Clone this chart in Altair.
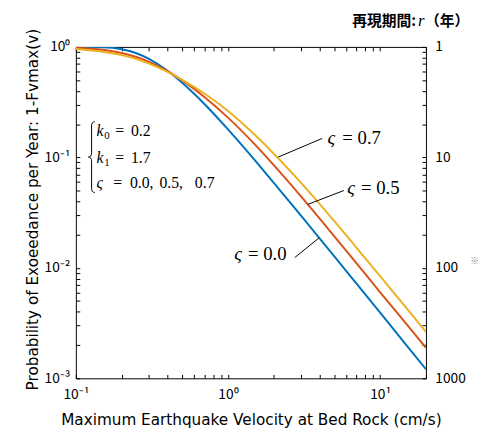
import altair as alt
import pandas as pd

# ---- data ----
v = [0.1, 0.15, 0.2, 0.25, 0.3, 0.4, 0.5, 0.7, 1, 1.5, 2, 3, 5, 7, 10, 15, 20]
p_s00 = [0.9999, 0.993, 0.952, 0.876, 0.783, 0.608, 0.473, 0.304, 0.179, 0.0943,
         0.0589, 0.0300, 0.0127, 0.00719, 0.00393, 0.00197, 0.00121]
p_s05 = [0.978, 0.943, 0.881, 0.81, 0.736, 0.604, 0.498, 0.352, 0.229, 0.131,
         0.085, 0.0448, 0.0193, 0.0110, 0.00601, 0.00306, 0.00189]
p_s07 = [0.958, 0.904, 0.843, 0.775, 0.710, 0.594, 0.504, 0.379, 0.263, 0.160,
         0.108, 0.0595, 0.0265, 0.0152, 0.00841, 0.00428, 0.00263]
series = ["0.0", "0.5", "0.7"]
colors = ["#0072BD", "#D95319", "#EDB120"]

# leader lines (curve point -> label), in data units
lead_v0 = [3.97, 3.34, 2.14]
lead_p0 = [0.0187, 0.0375, 0.1007]
lead_v1 = [2.75, 5.77, 4.16]
lead_p1 = [0.0124, 0.0501, 0.1485]

x_ticks = [0.1, 0.2, 0.3, 0.4, 0.5, 0.6, 0.7, 0.8, 0.9,
           1, 2, 3, 4, 5, 6, 7, 8, 9, 10, 20]
y_ticks = [0.001, 0.002, 0.003, 0.004, 0.005, 0.006, 0.007, 0.008, 0.009,
           0.01, 0.02, 0.03, 0.04, 0.05, 0.06, 0.07, 0.08, 0.09,
           0.1, 0.2, 0.3, 0.4, 0.5, 0.6, 0.7, 0.8, 0.9, 1]

rows = []
for s, ps in zip(series, [p_s00, p_s05, p_s07]):
    for vi, pi in zip(v, ps):
        rows.append({"v": vi, "p": pi, "s": s})
df = pd.DataFrame(rows)
lead_df = pd.DataFrame({"v0": lead_v0, "p0": lead_p0, "v1": lead_v1, "p1": lead_p1})

JP = "Noto Sans CJK JP"
TITLE_FONT = "DejaVu Sans"
SERIF = "Liberation Serif"

xs = alt.Scale(type="log", domain=[0.1, 20], nice=False)
ys = alt.Scale(type="log", domain=[0.001, 1], nice=False)

common = dict(grid=False, domain=False, ticks=True, tickSize=4, tickColor="black",
              tickWidth=1, offset=-4, labelFlush=False, labelOverlap=False,
              labelFont=JP, labelFontSize=14, labelColor="black")

x_lab = ("datum.value == 0.1 ? '10\u207b\u00b9' : datum.value == 1 ? '10\u2070' : "
         "datum.value == 10 ? '10\u00b9' : ''")
y_lab = ("datum.value == 1 ? '10\u2070' : datum.value == 0.1 ? '10\u207b\u00b9' : "
         "datum.value == 0.01 ? '10\u207b\u00b2' : datum.value == 0.001 ? '10\u207b\u00b3' : ''")
r_lab = ("datum.value == 1 ? '1' : datum.value == 0.1 ? '10' : "
         "datum.value == 0.01 ? '100' : datum.value == 0.001 ? '1000' : ''")

bottom_axis = alt.Axis(orient="bottom", values=x_ticks, labelExpr=x_lab, labelPadding=10,
                       title="Maximum Earthquake Velocity at Bed Rock (cm/s)",
                       titleFont=TITLE_FONT, titleFontSize=15.5, titleFontWeight="normal",
                       titleColor="black", titleY=46, titleBaseline="middle", **common)
left_axis = alt.Axis(orient="left", values=y_ticks, labelExpr=y_lab, labelPadding=6,
                     title="Probability of Exoeedance per Year: 1-Fvmax(v)",
                     titleFont=TITLE_FONT, titleFontSize=15.5, titleFontWeight="normal",
                     titleColor="black", titleX=-48, titleY=165, titleAngle=270,
                     titleBaseline="middle", titleAlign="center", **common)
top_axis = alt.Axis(orient="top", values=x_ticks, labels=False, title=None,
                    **{k: val for k, val in common.items() if not k.startswith("label")})
right_axis = alt.Axis(orient="right", values=y_ticks, labelExpr=r_lab, labelPadding=9,
                      title=None, **common)

lines = alt.Chart(df).mark_line(strokeWidth=2, interpolate="monotone", clip=True).encode(
    x=alt.X("v:Q", scale=xs, axis=bottom_axis),
    y=alt.Y("p:Q", scale=ys, axis=left_axis),
    color=alt.Color("s:N", scale=alt.Scale(domain=series, range=colors), legend=None),
)
ghost = alt.Chart(df).mark_line(opacity=0).encode(
    x=alt.X("v:Q", scale=xs, axis=top_axis),
    y=alt.Y("p:Q", scale=ys, axis=right_axis),
    detail="s:N",
)
leaders = alt.Chart(lead_df).mark_rule(color="black", strokeWidth=1).encode(
    x=alt.X("v0:Q", scale=xs, axis=None),
    y=alt.Y("p0:Q", scale=ys, axis=None),
    x2="v1:Q",
    y2="p1:Q",
)

one = pd.DataFrame({"a": [0]})


def txt(t, x, y, size=16, font=SERIF, style="normal", weight="normal", color="black", align="left"):
    return alt.Chart(one).mark_text(text=t, font=font, fontSize=size, fontStyle=style,
                                    fontWeight=weight, color=color, align=align,
                                    baseline="middle").encode(x=alt.value(x), y=alt.value(y))


NB = "\u00a0"
annots = [
    # parameter block
    txt("k", 21, 86, style="italic"), txt("0", 29, 91, size=11), txt("=", 40, 86), txt("0.2", 56, 86),
    txt("k", 21, 113, style="italic"), txt("1", 29, 118, size=11), txt("=", 40, 113), txt("1.7", 56, 113),
    txt("\u03c2", 21, 138, style="italic"), txt("=", 38, 138),
    txt("0.0,", 55, 138), txt("0.5,", 85, 138), txt("0.7", 121, 138),
    # curve labels
    txt("\u03c2", 256, 93, size=19, style="italic"), txt("=" + NB + "0.7", 271, 93, size=19),
    txt("\u03c2", 276, 144, size=19, style="italic"), txt("=" + NB + "0.5", 290, 144, size=19),
    txt("\u03c2", 161, 211, size=19, style="italic"), txt("=" + NB + "0.0", 175, 211, size=19),
    # top-right title
    txt("再現期間:", 281, -26, size=15, font=JP, weight="bold"),
    txt("r", 348, -26, size=17, style="italic"),
    txt("（年）", 355, -26, size=15, font=JP, weight="bold"),
    txt("※", 401, 218, size=9, font=JP, color="#888888"),
]

brace = alt.Chart(one).mark_point(
    shape="M0.09,-1 Q0,-1 0,-0.88 L0,-0.12 Q0,0 -0.09,0 Q0,0 0,0.12 L0,0.88 Q0,1 0.09,1",
    size=5184, filled=False, stroke="black", strokeWidth=1, opacity=1,
).encode(x=alt.value(16), y=alt.value(112))

chart = alt.layer(lines, ghost, leaders, brace, *annots).resolve_axis(
    x="independent", y="independent"
).properties(
    width=356, height=337,
    padding={"left": 69, "top": 36, "right": 57, "bottom": 50},
    autosize=alt.AutoSizeParams(type="none"),
).configure_view(stroke="black", strokeWidth=1)

chart.save("out.html", embed_options={"renderer": "svg", "actions": False})
